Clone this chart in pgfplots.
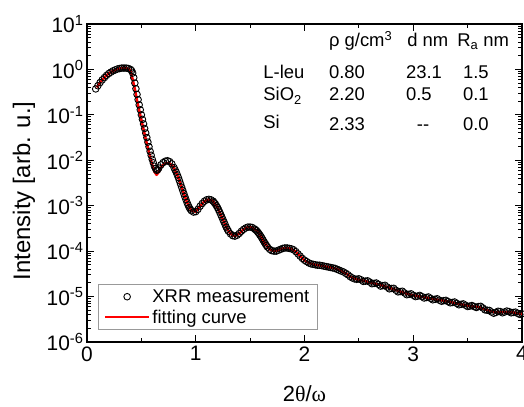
\documentclass[border=0pt]{standalone}
\usepackage{fontspec}
\setmainfont{Liberation Sans}
\newfontfamily\grk{Liberation Serif}
\usepackage{pgfplots}
\usepackage{pgfplotstable}
\pgfplotsset{compat=1.18}
\pgfplotsset{
  marklegend/.style={legend image code/.code={\draw[mark repeat=2, mark phase=2, ##1] plot coordinates {(0bp,0bp) (22bp,0bp) (44bp,0bp)};}},
  linelegend/.style={legend image code/.code={\draw[##1, line width=1.6bp] (0bp,0bp) -- (44bp,0bp);}},
}

\pgfplotstableread{
x y
0.08 0.372
0.10 0.437
0.12 0.513
0.14 0.589
0.16 0.661
0.18 0.741
0.20 0.813
0.22 0.871
0.24 0.933
0.26 0.977
0.28 1.023
0.30 1.047
0.32 1.072
0.34 1.072
0.36 1.072
0.38 1.047
0.40 1.000
0.41 0.940
0.42 0.832
0.43 0.660
0.44 0.501
0.45 0.376
0.46 0.282
0.47 0.216
0.48 0.166
0.49 0.129
0.50 0.100
0.51 0.0794
0.52 0.0631
0.53 0.0501
0.54 0.0398
0.55 0.0316
0.56 0.0251
0.57 0.0199
0.58 0.0158
0.59 0.0129
0.60 0.0105
0.61 8.80e-3
0.62 7.41e-3
0.63 6.60e-3
0.64 6.03e-3
0.65 6.20e-3
0.66 6.76e-3
0.68 7.94e-3
0.70 8.91e-3
0.72 9.55e-3
0.74 9.77e-3
0.76 9.33e-3
0.78 8.32e-3
0.80 6.92e-3
0.81 6.17e-3
0.82 5.50e-3
0.83 4.79e-3
0.84 4.17e-3
0.85 3.55e-3
0.86 3.02e-3
0.87 2.57e-3
0.88 2.19e-3
0.89 1.86e-3
0.90 1.585e-3
0.91 1.365e-3
0.92 1.175e-3
0.93 1.035e-3
0.94 9.12e-4
0.95 8.40e-4
0.96 7.76e-4
0.98 7.24e-4
1.00 7.41e-4
1.02 8.32e-4
1.04 9.77e-4
1.06 1.122e-3
1.08 1.259e-3
1.10 1.349e-3
1.12 1.380e-3
1.14 1.349e-3
1.16 1.259e-3
1.17 1.175e-3
1.18 1.096e-3
1.19 1.000e-3
1.20 9.12e-4
1.21 8.13e-4
1.22 7.24e-4
1.23 6.38e-4
1.24 5.62e-4
1.25 4.95e-4
1.26 4.37e-4
1.27 3.85e-4
1.28 3.39e-4
1.29 3.05e-4
1.30 2.75e-4
1.32 2.40e-4
1.34 2.19e-4
1.36 2.14e-4
1.38 2.24e-4
1.40 2.45e-4
1.42 2.75e-4
1.44 3.02e-4
1.46 3.24e-4
1.48 3.39e-4
1.50 3.39e-4
1.52 3.31e-4
1.54 3.09e-4
1.55 2.95e-4
1.56 2.82e-4
1.57 2.63e-4
1.58 2.45e-4
1.59 2.26e-4
1.60 2.09e-4
1.61 1.91e-4
1.62 1.74e-4
1.63 1.585e-4
1.64 1.445e-4
1.65 1.33e-4
1.66 1.23e-4
1.68 1.096e-4
1.70 1.023e-4
1.72 1.0e-4
1.74 1.0e-4
1.76 1.047e-4
1.78 1.096e-4
1.80 1.148e-4
1.82 1.175e-4
1.84 1.175e-4
1.86 1.148e-4
1.88 1.122e-4
1.90 1.072e-4
1.92 9.77e-5
1.94 8.71e-5
1.96 7.76e-5
1.98 6.92e-5
2.00 6.31e-5
2.02 5.89e-5
2.04 5.50e-5
2.06 5.25e-5
2.08 5.13e-5
2.10 5.01e-5
2.12 4.90e-5
2.14 4.90e-5
2.16 4.79e-5
2.18 4.68e-5
2.20 4.57e-5
2.22 4.47e-5
2.24 4.37e-5
2.26 4.27e-5
2.28 4.17e-5
2.30 3.98e-5
2.32 3.80e-5
2.34 3.63e-5
2.36 3.47e-5
2.38 3.24e-5
2.40 3.02e-5
2.42 2.75e-5
2.44 2.57e-5
2.46 2.45e-5
2.48 2.40e-5
2.50 2.46e-5
2.52 2.34e-5
2.54 2.16e-5
2.56 2.19e-5
2.58 2.22e-5
2.60 2.09e-5
2.62 1.92e-5
2.64 1.95e-5
2.66 1.99e-5
2.68 1.86e-5
2.70 1.70e-5
2.72 1.74e-5
2.74 1.77e-5
2.76 1.62e-5
2.78 1.48e-5
2.80 1.51e-5
2.82 1.52e-5
2.84 1.38e-5
2.86 1.27e-5
2.88 1.29e-5
2.90 1.31e-5
2.92 1.20e-5
2.94 1.10e-5
2.96 1.12e-5
2.98 1.15e-5
3.00 1.07e-5
3.02 1.00e-5
3.04 1.02e-5
3.06 1.06e-5
3.08 1.00e-5
3.10 9.30e-6
3.12 9.55e-6
3.14 9.80e-6
3.16 9.12e-6
3.18 8.50e-6
3.20 8.71e-6
3.22 8.95e-6
3.24 8.32e-6
3.26 7.90e-6
3.28 8.13e-6
3.30 8.25e-6
3.32 7.76e-6
3.34 7.30e-6
3.36 7.41e-6
3.38 7.60e-6
3.40 7.08e-6
3.42 6.60e-6
3.44 6.76e-6
3.46 6.90e-6
3.48 6.46e-6
3.50 6.05e-6
3.52 6.17e-6
3.54 6.35e-6
3.56 6.03e-6
3.58 5.75e-6
3.60 6.03e-6
3.62 6.10e-6
3.64 5.62e-6
3.66 5.10e-6
3.68 5.01e-6
3.70 4.95e-6
3.72 4.57e-6
3.74 4.30e-6
3.76 4.47e-6
3.78 4.75e-6
3.80 4.68e-6
3.82 4.40e-6
3.84 4.57e-6
3.86 4.80e-6
3.88 4.68e-6
3.90 4.40e-6
3.92 4.47e-6
3.94 4.55e-6
3.96 4.27e-6
3.98 4.05e-6
4.00 4.17e-6
}\xrr

% fitting curve
\pgfplotstableread{
x y
0.09 0.400
0.10 0.437
0.12 0.513
0.14 0.589
0.16 0.661
0.18 0.741
0.20 0.813
0.22 0.871
0.24 0.933
0.26 0.977
0.28 1.023
0.30 1.047
0.32 1.065
0.34 1.065
0.36 1.060
0.38 1.035
0.40 0.955
0.42 0.600
0.44 0.370
0.46 0.209
0.48 0.126
0.50 0.0776
0.52 0.0479
0.54 0.0295
0.56 0.0186
0.58 0.0120
0.60 7.94e-3
0.62 5.62e-3
0.64 4.79e-3
0.66 5.50e-3
0.68 6.92e-3
0.70 7.94e-3
0.72 8.51e-3
0.74 8.71e-3
0.76 8.51e-3
0.78 7.76e-3
0.80 6.76e-3
0.84 4.17e-3
0.88 2.19e-3
0.92 1.175e-3
0.96 7.76e-4
1.00 7.41e-4
1.04 9.77e-4
1.08 1.259e-3
1.12 1.380e-3
1.16 1.259e-3
1.20 9.12e-4
1.24 5.62e-4
1.28 3.39e-4
1.32 2.40e-4
1.36 2.14e-4
1.40 2.45e-4
1.44 3.02e-4
1.48 3.39e-4
1.52 3.31e-4
1.56 2.82e-4
1.60 2.09e-4
1.64 1.445e-4
1.68 1.096e-4
1.72 1.0e-4
1.76 1.047e-4
1.80 1.148e-4
1.84 1.175e-4
1.88 1.122e-4
1.92 9.77e-5
1.96 7.76e-5
2.00 6.31e-5
2.04 5.50e-5
2.08 5.13e-5
2.12 4.90e-5
2.16 4.79e-5
2.20 4.57e-5
2.24 4.37e-5
2.28 4.17e-5
2.32 3.80e-5
2.36 3.47e-5
2.40 3.02e-5
2.44 2.57e-5
2.48 2.40e-5
2.56 2.19e-5
2.64 1.95e-5
2.72 1.74e-5
2.80 1.51e-5
2.88 1.29e-5
2.96 1.12e-5
3.04 1.02e-5
3.12 9.55e-6
3.20 8.71e-6
3.28 8.13e-6
3.36 7.41e-6
3.44 6.76e-6
3.52 6.17e-6
3.60 5.90e-6
3.68 5.01e-6
3.76 4.47e-6
3.84 4.57e-6
3.92 4.47e-6
4.00 4.17e-6
}\fit

\begin{document}
\begin{tikzpicture}
\begin{axis}[
  name=ax,
  scale only axis,
  width=435bp, height=318bp,
  xmin=0, xmax=4,
  ymode=log, ymin=1e-6, ymax=10,
  xtick={0,1,2,3,4},
  minor xtick={0.5,1.5,2.5,3.5},
  ytick={1e-6,1e-5,1e-4,1e-3,1e-2,1e-1,1,10},
  yticklabels={10\textsuperscript{-6},10\textsuperscript{-5},10\textsuperscript{-4},10\textsuperscript{-3},10\textsuperscript{-2},10\textsuperscript{-1},10\textsuperscript{0},10\textsuperscript{1}},
  /pgf/number format/assume math mode=true,
  tick label style={font=\fontsize{21}{24}\selectfont},
  xticklabel style={yshift=-1bp},
  major tick length=7bp, minor tick length=4bp,
  tick style={line width=0.9bp, black},
  axis line style={line width=1.3bp},
  xlabel={2{\grk θ}/{\grk ω}},
  xlabel style={font=\fontsize{22}{24}\selectfont, at={(axis description cs:0.5,-0.163)}, anchor=center},
  ylabel={Intensity [arb. u.]},
  ylabel style={font=\fontsize{24}{26}\selectfont, at={(axis description cs:-0.145,0.475)}, anchor=center},
  legend style={at={(axis description cs:0.0253,0.0377)}, anchor=south west,
    draw=gray!80, line width=0.7bp, font=\fontsize{18.5}{20}\selectfont,
    inner xsep=6bp, inner ysep=2.5bp, row sep=1bp,
    nodes={inner sep=2.5bp, anchor=west}},
  legend cell align=left,
]
\addplot[only marks, mark=o, mark size=3.3bp, mark options={line width=0.9bp, black}, marklegend]
  table[x=x, y=y] {\xrr};
\addlegendentry{XRR measurement}
\addplot[red, line width=2.5bp, line join=round, linelegend]
  table[x=x, y=y] {\fit};
\addlegendentry{fitting curve}

\begin{scope}[every node/.style={inner sep=0pt, anchor=base west, font=\fontsize{18.5}{20}\selectfont}]
\node at (axis description cs:0.556,0.928) {ρ g/cm\textsuperscript{3}};
\node at (axis description cs:0.736,0.928) {d nm};
\node at (axis description cs:0.851,0.928) {R\textsubscript{a} nm};
\node at (axis description cs:0.405,0.830) {L-leu};
\node at (axis description cs:0.556,0.830) {0.80};
\node at (axis description cs:0.733,0.830) {23.1};
\node at (axis description cs:0.864,0.830) {1.5};
\node at (axis description cs:0.405,0.758) {SiO\textsubscript{2}};
\node at (axis description cs:0.556,0.758) {2.20};
\node at (axis description cs:0.733,0.758) {0.5};
\node at (axis description cs:0.864,0.758) {0.1};
\node at (axis description cs:0.405,0.670) {Si};
\node at (axis description cs:0.556,0.664) {2.33};
\node at (axis description cs:0.758,0.664) {-{}-};
\node at (axis description cs:0.864,0.664) {0.0};
\end{scope}
\end{axis}
\pgfresetboundingbox
\path (ax.south west) ++(-87bp,-65bp) rectangle ++(524bp,407bp);
\end{tikzpicture}
\end{document}
